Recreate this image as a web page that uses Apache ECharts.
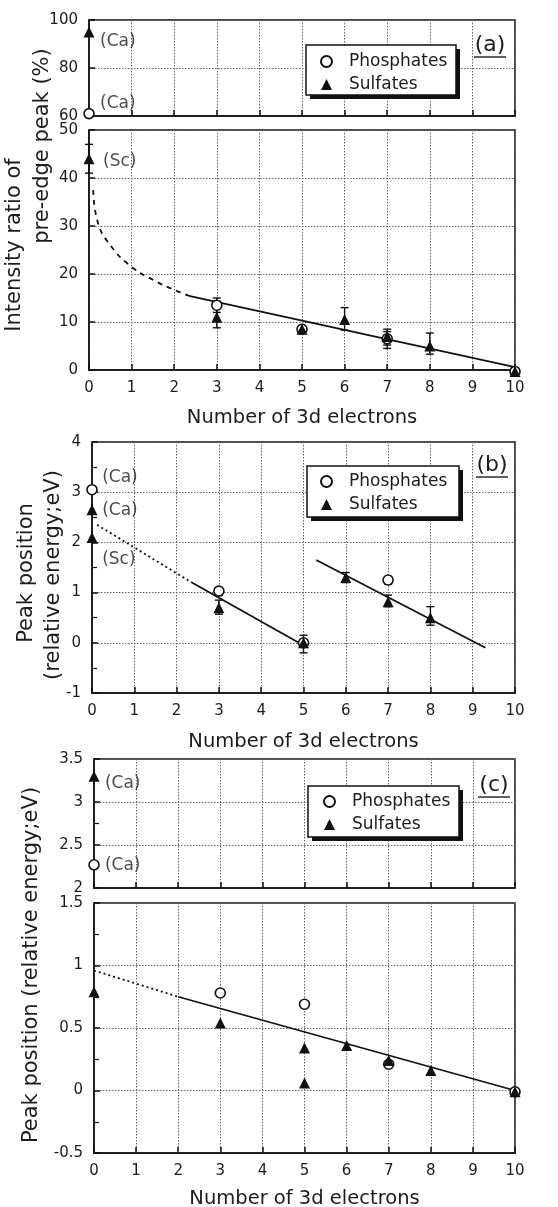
<!DOCTYPE html>
<html>
<head>
<meta charset="utf-8">
<script src="https://cdn.jsdelivr.net/npm/echarts@6/dist/echarts.min.js"></script>
<style>
  html, body { margin: 0; padding: 0; background: #fff; }
  #chart { width: 558px; height: 1207px; }
</style>
</head>
<body>
<div id="chart"></div>
<script>
// ---- x axis: number of 3d electrons ----
const electronTicks = [0, 1, 2, 3, 4, 5, 6, 7, 8, 9, 10];

// ---- (a) intensity ratio of pre-edge peak (%) ----
const aTopPhosphates = [[0, 61]];
const aTopSulfates = [[0, 95]];
const aPhosphates = [[3, 13.5], [5, 8.5], [7, 6.5], [10, -0.3]];
const aSulfates = [[0, 44], [3, 11], [5, 8.5], [6, 10.5], [7, 7], [8, 5], [10, -0.3]];
const aSulfateErr = [[0, 41, 47], [3, 8.8, 14.3], [6, 8.3, 13], [7, 4.5, 8.5], [8, 3.3, 7.7]];
const aPhosphateErr = [[3, 12, 15], [7, 5.2, 8]];
const aFitDashed = [[0.1, 37.5], [0.2, 31], [0.5, 26], [1, 21.5], [1.5, 18.8], [2, 16.7], [2.37, 15.4]];
const aFitSolid = [[2.37, 15.4], [10, 0.6]];
const aTopNotes = [[0.26, 91, '(Ca)'], [0.26, 65, '(Ca)']];
const aNotes = [[0.33, 43.5, '(Sc)']];

// ---- (b) peak position (relative energy; eV) ----
const bPhosphates = [[0, 3.05], [3, 1.03], [5, 0], [7, 1.25]];
const bSulfates = [[0, 2.65], [0, 2.1], [3, 0.7], [5, 0], [6, 1.3], [7, 0.82], [8, 0.5]];
const bSulfateErr = [[3, 0.57, 0.85], [5, -0.2, 0.15], [6, 1.2, 1.4], [7, 0.72, 0.95], [8, 0.35, 0.72]];
const bPhosphateErr = [[3, 0.95, 1.1], [7, 1.17, 1.32]];
const bFitDotted = [[0.12, 2.35], [2.36, 1.2]];
const bFitSolid1 = [[2.36, 1.2], [5.1, -0.1]];
const bFitSolid2 = [[5.3, 1.65], [9.3, -0.1]];
const bNotes = [[0.24, 3.3, '(Ca)'], [0.24, 2.63, '(Ca)'], [0.24, 1.65, '(Sc)']];

// ---- (c) peak position (relative energy; eV) ----
const cTopPhosphates = [[0, 2.27]];
const cTopSulfates = [[0, 3.3]];
const cPhosphates = [[3, 0.78], [5, 0.69], [7, 0.21], [10, -0.01]];
const cSulfates = [[0, 0.79], [3, 0.54], [5, 0.34], [5, 0.06], [6, 0.36], [7, 0.24], [8, 0.16], [10, -0.01]];
const cFitDotted = [[0, 0.96], [2, 0.75]];
const cFitSolid = [[2, 0.75], [10, 0.0]];
const cTopNotes = [[0.26, 3.22, '(Ca)'], [0.26, 2.26, '(Ca)']];

const FONT = 'DejaVu Sans';
const INK = '#111';
const TXT = '#1c1c1c';

const grids = [
  { left: 89, top: 20, width: 426, height: 96 },   // (a) upper
  { left: 89, top: 130, width: 426, height: 240 }, // (a) lower
  { left: 92, top: 442, width: 423, height: 251 }, // (b)
  { left: 94, top: 759, width: 421, height: 129 }, // (c) upper
  { left: 94, top: 903, width: 421, height: 250 }  // (c) lower
].map(g => Object.assign(g, {
  show: true, borderColor: INK, borderWidth: 1.5, backgroundColor: 'transparent',
  containLabel: false, outerBoundsMode: 'none'
}));

function xAxis(gridIndex, showLabels, nameGap) {
  return {
    type: 'value', gridIndex, min: electronTicks[0], max: electronTicks[electronTicks.length - 1], interval: 1,
    axisLine: { show: true, onZero: false, lineStyle: { color: INK, width: 1.5 } },
    axisTick: { show: true, inside: true, length: 6, lineStyle: { color: INK, width: 1.5 } },
    axisLabel: { show: showLabels, color: TXT, fontFamily: FONT, fontSize: 15, margin: 11 },
    splitLine: { show: true, lineStyle: { color: '#666', width: 1, type: [1.5, 1.5] } },
    name: showLabels ? 'Number of 3d electrons' : '',
    nameLocation: 'middle', nameGap: nameGap || 38,
    nameTextStyle: { color: TXT, fontFamily: FONT, fontSize: 19.5 }
  };
}

function yAxis(gridIndex, min, max, interval, minor) {
  return {
    type: 'value', gridIndex, min, max, interval,
    axisLine: { show: true, onZero: false, lineStyle: { color: INK, width: 1.5 } },
    axisTick: { show: true, inside: true, length: 6, lineStyle: { color: INK, width: 1.5 } },
    minorTick: { show: !!minor, splitNumber: 2, length: 5, lineStyle: { color: INK, width: 1.2 } },
    axisLabel: { color: TXT, fontFamily: FONT, fontSize: 15, margin: 11 },
    splitLine: { show: true, lineStyle: { color: '#666', width: 1, type: [1.5, 1.5] } }
  };
}

function phos(data, g) {
  return {
    name: 'Phosphates', type: 'scatter', xAxisIndex: g, yAxisIndex: g, data, clip: false, z: 5,
    symbol: 'circle', symbolSize: 10,
    itemStyle: { color: '#fff', borderColor: INK, borderWidth: 1.6, opacity: 1 }
  };
}
function sulf(data, g) {
  return {
    name: 'Sulfates', type: 'scatter', xAxisIndex: g, yAxisIndex: g, data, clip: false, z: 6,
    symbol: 'triangle', symbolSize: 11,
    itemStyle: { color: INK, opacity: 1 }
  };
}
function fit(data, g, type, smooth) {
  return {
    name: 'fit', type: 'line', xAxisIndex: g, yAxisIndex: g, data, smooth: !!smooth,
    symbol: 'none', clip: false, z: 4, silent: true,
    lineStyle: { color: INK, width: 1.8, type }
  };
}
function errBars(data, g) {
  return {
    name: 'err', type: 'custom', xAxisIndex: g, yAxisIndex: g, data, clip: false, z: 3, silent: true,
    encode: { x: 0, y: [1, 2] },
    renderItem(params, api) {
      const x = api.value(0);
      const top = api.coord([x, api.value(2)]);
      const bot = api.coord([x, api.value(1)]);
      const w = 4;
      const st = { stroke: INK, lineWidth: 1.4 };
      return {
        type: 'group', children: [
          { type: 'line', shape: { x1: top[0], y1: top[1], x2: bot[0], y2: bot[1] }, style: st },
          { type: 'line', shape: { x1: top[0] - w, y1: top[1], x2: top[0] + w, y2: top[1] }, style: st },
          { type: 'line', shape: { x1: bot[0] - w, y1: bot[1], x2: bot[0] + w, y2: bot[1] }, style: st }
        ]
      };
    }
  };
}
function notes(data, g) {
  return {
    name: 'notes', type: 'scatter', xAxisIndex: g, yAxisIndex: g, silent: true, clip: false, z: 7,
    symbolSize: 0,
    data: data.map(n => ({ value: [n[0], n[1]], label: { formatter: n[2] } })),
    label: { show: true, position: 'right', distance: 0, color: TXT, fontFamily: FONT, fontSize: 17 }
  };
}

// legend items; the framed box behind them is drawn as graphics
function legendAt(left, top) {
  return {
    show: true, selectedMode: false, orient: 'vertical', left, top, padding: 0, z: 10,
    data: [{ name: 'Phosphates', icon: 'circle' }, { name: 'Sulfates', icon: 'triangle' }],
    itemWidth: 11, itemHeight: 11, itemGap: 6,
    textStyle: { color: TXT, fontFamily: FONT, fontSize: 17, padding: [0, 0, 0, 12] }
  };
}
function legendBox(x, y, w, h) {
  return {
    type: 'group', z: 2, children: [
      { type: 'rect', z: 2, shape: { x: x + 4, y: y + 4, width: w, height: h }, style: { fill: INK } },
      { type: 'rect', z: 3, shape: { x, y, width: w, height: h }, style: { fill: '#fff', stroke: INK, lineWidth: 1.5 } }
    ]
  };
}

function panelTag(text, x, y, uy) {
  return {
    type: 'group', children: [
      { type: 'text', x, y, style: { text, font: '22px "DejaVu Sans"', fill: TXT, textAlign: 'center', textVerticalAlign: 'middle' } },
      { type: 'line', shape: { x1: x - 16, y1: uy, x2: x + 16, y2: uy }, style: { stroke: TXT, lineWidth: 1.4 } }
    ]
  };
}
function vTitle(text, x, y) {
  return {
    type: 'text', x, y, rotation: Math.PI / 2,
    style: { text, font: '21px "DejaVu Sans"', fill: TXT, textAlign: 'center', textVerticalAlign: 'middle' }
  };
}

const option = {
  animation: false,
  backgroundColor: '#fff',
  grid: grids,
  xAxis: [xAxis(0, false), xAxis(1, true, 38), xAxis(2, true, 39), xAxis(3, false), xAxis(4, true, 36)],
  yAxis: [
    yAxis(0, 60, 100, 20),
    yAxis(1, 0, 50, 10),
    yAxis(2, -1, 4, 1, true),
    yAxis(3, 2, 3.5, 0.5, true),
    yAxis(4, -0.5, 1.5, 0.5, true)
  ],
  legend: [legendAt(320, 53), legendAt(320, 473), legendAt(323, 793)],
  graphic: [
    legendBox(306, 45, 150, 50),
    legendBox(307, 466, 152, 51),
    legendBox(308, 786, 151, 51),
    panelTag('(a)', 490, 45, 57),
    panelTag('(b)', 492, 465, 477),
    panelTag('(c)', 494, 785, 797),
    vTitle('Intensity ratio of', 15, 245),
    vTitle('pre-edge peak (%)', 43, 146),
    vTitle('Peak position', 27, 573),
    vTitle('(relative energy;eV)', 54, 575),
    vTitle('Peak position (relative energy;eV)', 32, 965)
  ],
  series: [
    // (a)
    phos(aTopPhosphates, 0), sulf(aTopSulfates, 0), notes(aTopNotes, 0),
    fit(aFitDashed, 1, [5, 5], true), fit(aFitSolid, 1, 'solid'),
    errBars(aSulfateErr, 1), errBars(aPhosphateErr, 1),
    phos(aPhosphates, 1), sulf(aSulfates, 1), notes(aNotes, 1),
    // (b)
    fit(bFitDotted, 2, [2, 3]), fit(bFitSolid1, 2, 'solid'), fit(bFitSolid2, 2, 'solid'),
    errBars(bSulfateErr, 2), errBars(bPhosphateErr, 2),
    phos(bPhosphates, 2), sulf(bSulfates, 2), notes(bNotes, 2),
    // (c)
    phos(cTopPhosphates, 3), sulf(cTopSulfates, 3), notes(cTopNotes, 3),
    fit(cFitDotted, 4, [2, 3]), fit(cFitSolid, 4, 'solid'),
    phos(cPhosphates, 4), sulf(cSulfates, 4)
  ]
};

const chart = echarts.init(document.getElementById('chart'), null, { renderer: 'canvas' });
chart.setOption(option);
</script>
</body>
</html>
